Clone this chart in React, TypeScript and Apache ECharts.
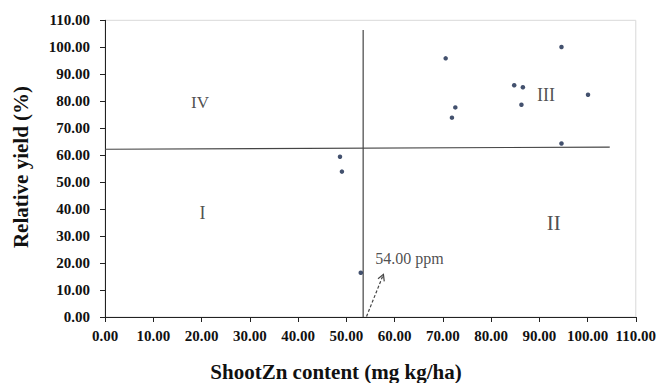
import React, { useEffect, useRef } from "react";
import * as echarts from "echarts";

const shootZn = [70.6, 94.6, 84.8, 86.6, 100.1, 86.3, 72.6, 71.9, 94.6, 48.7, 49.1, 53.0];
const relYield = [95.9, 100.1, 85.9, 85.2, 82.4, 78.7, 77.7, 73.9, 64.3, 59.4, 53.9, 16.4];

const verticalLine = [[53.5, 0], [53.5, 106.4]];
const horizontalLine = [[0, 62.2], [104.6, 63.0]];
const arrowSegment = [[54.2, 0.2, 57.7, 15.8]];

const quadrantLabels = [
  { name: "IV", value: [19.7, 79.7], size: 17 },
  { name: "III", value: [91.4, 82.2], size: 18 },
  { name: "I", value: [20.2, 38.6], size: 18 },
  { name: "II", value: [93.0, 34.7], size: 21 },
];
const ppmLabel = [{ name: "54.00 ppm", value: [56.0, 21.8] }];

const FONT = "'Liberation Serif', 'Times New Roman', serif";

export default function App() {
  const ref = useRef<HTMLDivElement>(null);
  useEffect(() => {
    if (!ref.current) return;
    const chart = echarts.init(ref.current, undefined, { renderer: "svg" });
    const axisCommon = {
      type: "value" as const,
      min: 0,
      max: 110,
      interval: 10,
      axisLine: { show: true, lineStyle: { color: "#222", width: 1 } },
      axisTick: { show: true, inside: false, length: 5, lineStyle: { color: "#222" } },
      splitLine: { show: false },
      axisLabel: {
        color: "#111",
        fontFamily: FONT,
        fontSize: 15,
        fontWeight: "bold" as const,
        formatter: (v: number) => v.toFixed(2),
      },
    };
    chart.setOption({
      animation: false,
      backgroundColor: "#fff",
      grid: {
        left: 105,
        right: 19.7,
        top: 20.3,
        bottom: 66,
        show: true,
        borderColor: "#d9d9d9",
        borderWidth: 1,
      },
      xAxis: { ...axisCommon, axisLabel: { ...axisCommon.axisLabel, margin: 11 } },
      yAxis: { ...axisCommon, axisLabel: { ...axisCommon.axisLabel, margin: 15 } },
      graphic: [
        {
          type: "text",
          x: 336,
          y: 372,
          style: {
            text: "ShootZn content (mg kg/ha)",
            font: `bold 21px ${FONT}`,
            fill: "#111",
            textAlign: "center",
            textVerticalAlign: "middle",
          },
        },
        {
          type: "text",
          x: 21,
          y: 167,
          rotation: Math.PI / 2,
          style: {
            text: "Relative yield (%)",
            font: `bold 21px ${FONT}`,
            fill: "#111",
            textAlign: "center",
            textVerticalAlign: "middle",
          },
        },
      ],
      series: [
        {
          type: "line",
          data: verticalLine,
          showSymbol: false,
          lineStyle: { color: "#444", width: 1.2 },
          silent: true,
        },
        {
          type: "line",
          data: horizontalLine,
          showSymbol: false,
          lineStyle: { color: "#444", width: 1.2 },
          silent: true,
        },
        {
          type: "scatter",
          data: shootZn.map((x, i) => [x, relYield[i]]),
          symbolSize: 4.5,
          itemStyle: { color: "#14254a" },
          z: 5,
        },
        {
          type: "custom",
          data: arrowSegment,
          encode: { x: [0, 2], y: [1, 3] },
          renderItem: (_params: any, api: any) => {
            const p0 = api.coord([api.value(0), api.value(1)]);
            const p1 = api.coord([api.value(2), api.value(3)]);
            const ang = Math.atan2(p1[1] - p0[1], p1[0] - p0[0]);
            const len = 7;
            const spread = 0.5;
            const a1 = [p1[0] - len * Math.cos(ang - spread), p1[1] - len * Math.sin(ang - spread)];
            const a2 = [p1[0] - len * Math.cos(ang + spread), p1[1] - len * Math.sin(ang + spread)];
            return {
              type: "group",
              children: [
                {
                  type: "line",
                  shape: { x1: p0[0], y1: p0[1], x2: p1[0], y2: p1[1] },
                  style: { stroke: "#444", lineWidth: 1.2, lineDash: [3, 2] },
                },
                {
                  type: "polyline",
                  shape: { points: [a1, p1, a2] },
                  style: { stroke: "#444", lineWidth: 1.2, fill: "none" },
                },
              ],
            };
          },
        },
        {
          type: "scatter",
          data: quadrantLabels.map((q) => ({
            name: q.name,
            value: q.value,
            label: { fontSize: q.size },
          })),
          symbolSize: 0,
          silent: true,
          label: {
            show: true,
            position: "inside",
            formatter: "{b}",
            color: "#222",
            fontFamily: FONT,
          },
        },
        {
          type: "scatter",
          data: ppmLabel,
          symbolSize: 0,
          silent: true,
          label: {
            show: true,
            position: "right",
            distance: 0,
            formatter: "{b}",
            color: "#222",
            fontFamily: FONT,
            fontSize: 16,
          },
        },
      ],
    });
    return () => chart.dispose();
  }, []);
  return (
    <div
      ref={ref}
      style={{ position: "fixed", left: 0, top: 0, width: 659, height: 383 }}
    />
  );
}
